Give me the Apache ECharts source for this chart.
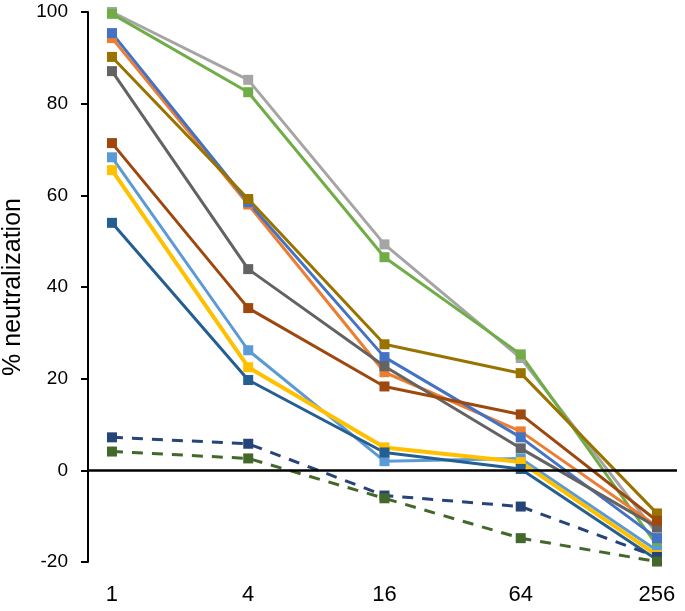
<!DOCTYPE html>
<html>
<head>
<meta charset="utf-8">
<script src="https://cdn.jsdelivr.net/npm/echarts@6/dist/echarts.min.js"></script>
<style>
  html, body { margin: 0; padding: 0; background: #fff; }
  #chart { width: 685px; height: 611px; }
</style>
</head>
<body>
<div id="chart"></div>
<script>
// dilutions on the x axis (shown as categories, evenly spaced)
var dilutions = ['1', '4', '16', '64', '256']
var yTicks = [-20, 0, 20, 40, 60, 80, 100]

var lightGray = [100, 85.2, 49.3, 24.5, -13.8]
var green = [99.6, 82.5, 46.5, 25.3, -16.4]
var blue = [95.4, 58.5, 24.7, 7.2, -14.8]
var orange = [94.3, 58, 21.4, 8.5, -12.2]
var gold = [90.2, 59.2, 27.5, 21.2, -9.4]
var darkGray = [87.1, 43.9, 22.7, 4.8, -12.4]
var brown = [71.4, 35.4, 18.3, 12.2, -11]
var lightBlue = [68.3, 26.2, 2, 2.6, -17.5]
var yellow = [65.5, 22.5, 5, 1.8, -18.5]
var darkBlue = [54, 19.7, 3.9, 0.3, -19.5]
var navyDash = [7.2, 5.8, -5.5, -7.9, -18.9]
var greenDash = [4.1, 2.6, -6.1, -14.8, -19.9]

var font = 'Liberation Sans, Arial, sans-serif'
// space between the y axis and the first dilution, in category steps
var pad = 0.176
var xMax = 4 + pad + 0.147

function pts (arr) {
  return arr.map(function (v, i) { return [i + pad, v] })
}

function line (name, arr, color, dashed, width) {
  return {
    name: name,
    type: 'line',
    data: pts(arr),
    symbol: 'rect',
    symbolSize: 10,
    itemStyle: { color: color },
    lineStyle: { color: color, width: width || 3, type: dashed ? [11, 9] : 'solid' },
    emphasis: { disabled: true },
    animation: false
  }
}

var series = [
  line('lightGray', lightGray, '#A5A5A5'),
  line('green', green, '#70AD47'),
  line('orange', orange, '#ED7D31'),
  line('blue', blue, '#4472C4'),
  line('gold', gold, '#997300'),
  line('darkGray', darkGray, '#636363'),
  line('brown', brown, '#9E480E'),
  line('lightBlue', lightBlue, '#5B9BD5'),
  line('yellow', yellow, '#FFC000', false, 4),
  line('darkBlue', darkBlue, '#255E91'),
  line('navyDash', navyDash, '#264478', true),
  line('greenDash', greenDash, '#43682B', true)
]

// zero line from the y axis to the right end
series[0].markLine = {
  silent: true,
  symbol: 'none',
  label: { show: false },
  lineStyle: { color: '#000', width: 2.5, type: 'solid' },
  data: [[{ coord: [0, 0] }, { coord: [xMax, 0] }]]
}

var chart = echarts.init(document.getElementById('chart'))
chart.setOption({
  animation: false,
  grid: { left: 70, right: 8, top: 12, bottom: 49, outerBoundsMode: 'none' },
  xAxis: {
    type: 'value',
    min: -0.132,
    max: xMax,
    axisLine: { show: false, onZero: false },
    axisTick: { show: false },
    splitLine: { show: false },
    axisLabel: {
      customValues: dilutions.map(function (d, i) { return i + pad }),
      formatter: function (v) { return dilutions[Math.round(v - pad)] },
      color: '#000',
      fontSize: 22,
      fontFamily: font,
      margin: 22
    }
  },
  yAxis: {
    type: 'value',
    min: yTicks[0],
    max: yTicks[yTicks.length - 1],
    interval: 20,
    name: '% neutralization',
    nameLocation: 'middle',
    nameGap: 40,
    nameTextStyle: { color: '#000', fontSize: 25, fontFamily: font },
    axisLine: { show: true, lineStyle: { color: '#000', width: 2 } },
    axisTick: { show: true, length: 7, lineStyle: { color: '#000', width: 2 } },
    splitLine: { show: false },
    axisLabel: {
      color: '#000',
      fontSize: 19,
      fontFamily: font,
      margin: 2
    }
  },
  series: series
})
</script>
</body>
</html>
